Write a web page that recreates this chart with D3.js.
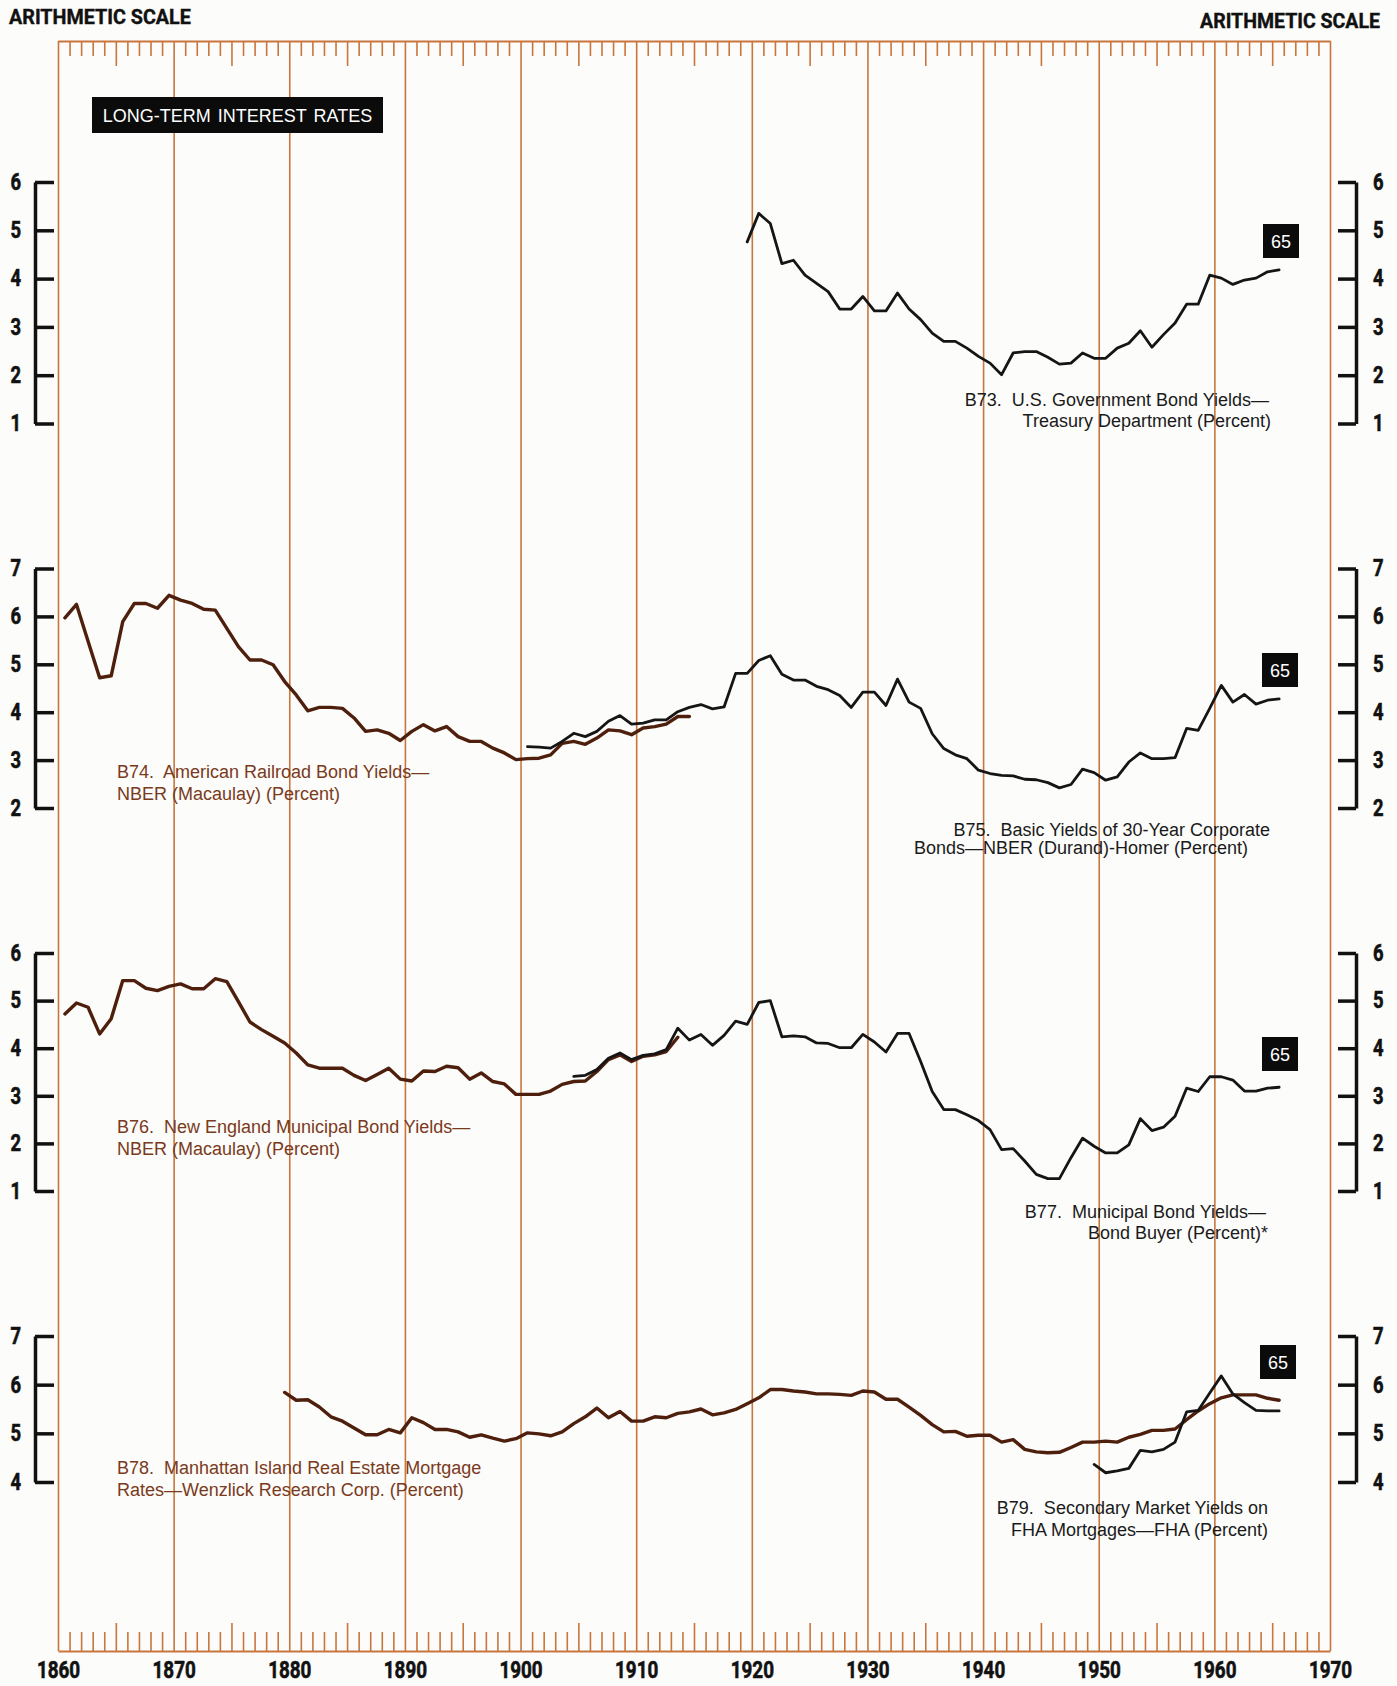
<!DOCTYPE html>
<html>
<head>
<meta charset="utf-8">
<script src="https://cdn.jsdelivr.net/npm/d3@7"></script>
<style>
  html, body { margin: 0; padding: 0; background: #fcfcfa; }
  svg { display: block; }
</style>
</head>
<body>
<svg id="chart" width="1397" height="1686"></svg>
<script>
// ---------------- DATA ----------------
const decadeYears = [1860, 1870, 1880, 1890, 1900, 1910, 1920, 1930, 1940, 1950, 1960, 1970];
const decadeLabels = ["1860", "1870", "1880", "1890", "1900", "1910", "1920", "1930", "1940", "1950", "1960", "1970"];

const panel1Ticks = [1, 2, 3, 4, 5, 6];
const panel2Ticks = [2, 3, 4, 5, 6, 7];
const panel3Ticks = [1, 2, 3, 4, 5, 6];
const panel4Ticks = [4, 5, 6, 7];

// B73 U.S. Government Bond Yields (1919-1965)
const b73Start = 1919;
const b73Values = [4.76, 5.35, 5.14, 4.31, 4.38, 4.07, 3.90, 3.73, 3.37, 3.37, 3.63, 3.33, 3.33, 3.70, 3.37, 3.15, 2.87, 2.70, 2.70, 2.56, 2.39, 2.25, 2.01, 2.46, 2.49, 2.49, 2.37, 2.23, 2.25, 2.46, 2.35, 2.35, 2.56, 2.66, 2.92, 2.58, 2.84, 3.08, 3.47, 3.47, 4.07, 4.01, 3.88, 3.97, 4.01, 4.14, 4.18];

// B74 American Railroad Bond Yields (1860-1914)
const b74Start = 1860;
const b74Values = [5.97, 6.25, 5.48, 4.72, 4.76, 5.89, 6.27, 6.27, 6.17, 6.44, 6.34, 6.27, 6.15, 6.13, 5.75, 5.37, 5.09, 5.09, 4.99, 4.64, 4.36, 4.03, 4.10, 4.10, 4.08, 3.88, 3.60, 3.63, 3.56, 3.41, 3.60, 3.74, 3.61, 3.70, 3.49, 3.39, 3.39, 3.25, 3.15, 3.01, 3.03, 3.04, 3.11, 3.35, 3.39, 3.33, 3.46, 3.63, 3.61, 3.53, 3.67, 3.70, 3.75, 3.91, 3.91];

// B75 Basic Yields of 30-Year Corporate Bonds (1900-1965)
const b75Start = 1900;
const b75Values = [3.28, 3.27, 3.25, 3.39, 3.56, 3.49, 3.60, 3.81, 3.93, 3.75, 3.77, 3.84, 3.84, 4.01, 4.10, 4.16, 4.07, 4.11, 4.81, 4.81, 5.08, 5.18, 4.79, 4.67, 4.67, 4.54, 4.47, 4.35, 4.10, 4.42, 4.42, 4.14, 4.69, 4.21, 4.08, 3.55, 3.24, 3.11, 3.03, 2.79, 2.72, 2.68, 2.67, 2.60, 2.59, 2.53, 2.42, 2.49, 2.81, 2.74, 2.58, 2.65, 2.96, 3.15, 3.03, 3.03, 3.05, 3.66, 3.62, 4.08, 4.56, 4.21, 4.37, 4.17, 4.25, 4.28];

// B76 New England Municipal Bond Yields (1860-1913)
const b76Start = 1860;
const b76Values = [4.72, 4.95, 4.86, 4.30, 4.62, 5.42, 5.42, 5.26, 5.21, 5.30, 5.35, 5.25, 5.25, 5.46, 5.40, 4.98, 4.55, 4.39, 4.25, 4.11, 3.90, 3.65, 3.58, 3.58, 3.58, 3.43, 3.32, 3.45, 3.58, 3.35, 3.31, 3.52, 3.51, 3.62, 3.59, 3.35, 3.48, 3.30, 3.25, 3.03, 3.03, 3.03, 3.10, 3.24, 3.30, 3.31, 3.51, 3.76, 3.86, 3.72, 3.83, 3.86, 3.93, 4.23];

// B77 Municipal Bond Yields - Bond Buyer (1904-1965)
const b77Start = 1904;
const b77Values = [3.41, 3.43, 3.55, 3.79, 3.90, 3.76, 3.85, 3.88, 3.97, 4.42, 4.17, 4.29, 4.06, 4.27, 4.57, 4.50, 4.96, 5.00, 4.24, 4.26, 4.24, 4.11, 4.10, 4.01, 4.01, 4.29, 4.13, 3.92, 4.31, 4.31, 3.72, 3.09, 2.71, 2.71, 2.60, 2.48, 2.29, 1.87, 1.89, 1.63, 1.35, 1.26, 1.26, 1.70, 2.11, 1.94, 1.80, 1.80, 1.97, 2.52, 2.27, 2.34, 2.57, 3.16, 3.09, 3.40, 3.40, 3.33, 3.10, 3.10, 3.16, 3.18];

// B78 Manhattan Island Real Estate Mortgage Rates (1879-1965)
const b78Start = 1879;
const b78Values = [5.84, 5.68, 5.69, 5.54, 5.34, 5.25, 5.11, 4.97, 4.97, 5.08, 5.01, 5.32, 5.22, 5.08, 5.08, 5.03, 4.92, 4.97, 4.90, 4.84, 4.89, 5.01, 4.99, 4.95, 5.03, 5.20, 5.34, 5.52, 5.32, 5.45, 5.25, 5.25, 5.34, 5.32, 5.41, 5.44, 5.50, 5.38, 5.42, 5.49, 5.61, 5.73, 5.90, 5.90, 5.87, 5.85, 5.81, 5.81, 5.80, 5.78, 5.87, 5.85, 5.70, 5.70, 5.54, 5.37, 5.18, 5.03, 5.04, 4.94, 4.96, 4.96, 4.82, 4.87, 4.67, 4.62, 4.60, 4.61, 4.71, 4.82, 4.82, 4.84, 4.82, 4.92, 4.98, 5.06, 5.06, 5.09, 5.28, 5.46, 5.61, 5.73, 5.79, 5.79, 5.79, 5.72, 5.68];

// B79 Secondary Market Yields on FHA Mortgages (1949-1965)
const b79Start = 1949;
const b79Values = [4.36, 4.19, 4.23, 4.28, 4.65, 4.62, 4.67, 4.82, 5.44, 5.47, 5.83, 6.18, 5.81, 5.63, 5.47, 5.46, 5.46];

const b73Label = ["B73.\u00a0 U.S. Government Bond Yields\u2014", "Treasury Department (Percent)"];
const b74Label = ["B74.\u00a0 American Railroad Bond Yields\u2014", "NBER (Macaulay) (Percent)"];
const b75Label = ["B75.\u00a0 Basic Yields of 30-Year Corporate", "Bonds\u2014NBER (Durand)-Homer (Percent)"];
const b76Label = ["B76.\u00a0 New England Municipal Bond Yields\u2014", "NBER (Macaulay) (Percent)"];
const b77Label = ["B77.\u00a0 Municipal Bond Yields\u2014", "Bond Buyer (Percent)*"];
const b78Label = ["B78.\u00a0 Manhattan Island Real Estate Mortgage", "Rates\u2014Wenzlick Research Corp. (Percent)"];
const b79Label = ["B79.\u00a0 Secondary Market Yields on", "FHA Mortgages\u2014FHA (Percent)"];
const scaleTitle = "ARITHMETIC SCALE";
const chartTitle = "LONG-TERM INTEREST RATES";
const lastYearTag = "65";

// ---------------- STYLE / LAYOUT ----------------
const ORANGE = "#c8763e";
const BROWN = "#4e1f0c";
const BROWN_TXT = "#7a3a1c";
const INK = "#151515";
const BOLD = "Roboto, 'DejaVu Sans', sans-serif";
const SANS = "'Liberation Sans', Arial, sans-serif";
const SQUEEZE = 0.8;   // horizontal compression to imitate condensed bold type
const TOP = 41, BOTTOM = 1651;
const PLOT_OFFSET = 0.6; // annual values plotted within the year interval

const svg = d3.select("#chart");
const x = d3.scaleLinear().domain([1860, 1970]).range([58, 1330]);

// ---------- grid: decade lines ----------
const grid = svg.append("g").attr("transform", `translate(0,${TOP})`)
  .call(d3.axisBottom(x).tickValues(decadeYears).tickSize(BOTTOM - TOP).tickSizeOuter(0).tickFormat(""));
grid.select(".domain").attr("stroke", ORANGE).attr("stroke-width", 2.2);
grid.selectAll(".tick line").attr("stroke", ORANGE).attr("stroke-width", 1.6);

const allYears = d3.range(1861, 1970).filter(yr => yr % 10 !== 0);
const minorYears = allYears.filter(yr => yr % 5 !== 0);
const fiveYears = allYears.filter(yr => yr % 5 === 0);

function styleTicks(g) {
  g.select(".domain").remove();
  g.selectAll(".tick line").attr("stroke", ORANGE).attr("stroke-width", 1.6);
}
// top ticks (hang down)
svg.append("g").attr("transform", `translate(0,${TOP})`)
  .call(d3.axisBottom(x).tickValues(minorYears).tickSize(15).tickFormat("")).call(styleTicks);
svg.append("g").attr("transform", `translate(0,${TOP})`)
  .call(d3.axisBottom(x).tickValues(fiveYears).tickSize(25).tickFormat("")).call(styleTicks);
// bottom ticks (point up)
svg.append("g").attr("transform", `translate(0,${BOTTOM})`)
  .call(d3.axisTop(x).tickValues(minorYears).tickSize(19).tickFormat("")).call(styleTicks);
svg.append("g").attr("transform", `translate(0,${BOTTOM})`)
  .call(d3.axisTop(x).tickValues(fiveYears).tickSize(28).tickFormat("")).call(styleTicks);
// bottom line + year labels
const bottomAxis = svg.append("g").attr("transform", `translate(0,${BOTTOM})`)
  .call(d3.axisBottom(x).tickValues(decadeYears).tickSize(0).tickSizeOuter(0).tickPadding(11)
    .tickFormat((d, i) => decadeLabels[i]));
bottomAxis.select(".domain").attr("stroke", ORANGE).attr("stroke-width", 2.2);
bottomAxis.selectAll("text")
  .attr("fill", "#111").attr("stroke", "#111").attr("stroke-width", 0.6)
  .attr("transform", "scale(0.82,1)")
  .style("font-family", BOLD).style("font-weight", "700").style("font-size", "23px");

// ---------- titles ----------
function squeezedText(tx, ty, str, anchor, size, targetWidth) {
  const t = svg.append("text").attr("x", 0).attr("y", 0).attr("text-anchor", anchor).text(str)
    .attr("fill", "#111").attr("stroke", "#111").attr("stroke-width", 0.4)
    .style("font-family", BOLD).style("font-weight", "700").style("font-size", size + "px");
  const w = t.node().getComputedTextLength();
  const s = w > 0 ? targetWidth / w : 1;
  t.attr("transform", `translate(${tx},${ty}) scale(${s},1)`);
  return t;
}
squeezedText(9, 24, scaleTitle, "start", 21, 182);
squeezedText(1380, 28, scaleTitle, "end", 21, 180);

svg.append("rect").attr("x", 92).attr("y", 97).attr("width", 291).attr("height", 36).attr("fill", "#0b0b0b");
svg.append("text").attr("x", 237.5).attr("y", 121.5).attr("text-anchor", "middle")
  .text(chartTitle).attr("fill", "#fff")
  .style("font-family", SANS).style("font-size", "18px").style("word-spacing", "2px");

// ---------- panels ----------
const panels = [
  { ticks: panel1Ticks, domain: [1, 6], range: [423.5, 182] },
  { ticks: panel2Ticks, domain: [2, 7], range: [808, 568.5] },
  { ticks: panel3Ticks, domain: [1, 6], range: [1191, 953] },
  { ticks: panel4Ticks, domain: [4, 7], range: [1482, 1336] }
];
panels.forEach(p => { p.y = d3.scaleLinear().domain(p.domain).range(p.range); });

function styleBracket(g, side) {
  g.select(".domain").attr("stroke", "#111").attr("stroke-width", 3.5);
  g.selectAll(".tick line").attr("stroke", "#111").attr("stroke-width", 3.5);
  g.selectAll(".tick text").attr("fill", "#111").attr("stroke", "#111").attr("stroke-width", 0.6)
    .attr("x", side === "left" ? -14 / SQUEEZE : 17 / SQUEEZE)
    .attr("transform", `scale(${SQUEEZE},1)`)
    .style("font-family", BOLD).style("font-weight", "700").style("font-size", "23px");
}
panels.forEach(p => {
  svg.append("g").attr("transform", "translate(35,0)")
    .call(d3.axisLeft(p.y).tickValues(p.ticks).tickSizeInner(-19).tickSizeOuter(0).tickPadding(14).tickFormat(d3.format("d")))
    .call(styleBracket, "left");
  svg.append("g").attr("transform", "translate(1356,0)")
    .call(d3.axisRight(p.y).tickValues(p.ticks).tickSizeInner(-18).tickSizeOuter(0).tickPadding(17).tickFormat(d3.format("d")))
    .call(styleBracket, "right");
});

// ---------- labels ----------
function label(lines, anchor, xs, ys, color) {
  lines.forEach((t, i) => {
    svg.append("text").attr("x", xs[i]).attr("y", ys[i]).attr("text-anchor", anchor)
      .text(t).attr("fill", color).style("font-family", SANS).style("font-size", "18px");
  });
}
label(b73Label, "end", [1269, 1271], [406, 427], "#1a1a1a");
label(b74Label, "start", [117, 117], [778, 800], BROWN_TXT);
label(b75Label, "end", [1270, 1248], [836, 854], "#1a1a1a");
label(b76Label, "start", [117, 117], [1133, 1155], BROWN_TXT);
label(b77Label, "end", [1266, 1268], [1218, 1239], "#1a1a1a");
label(b78Label, "start", [117, 117], [1474, 1496], BROWN_TXT);
label(b79Label, "end", [1268, 1268], [1514, 1536], "#1a1a1a");

// ---------- "65" tags ----------
const tagPos = [[1263, 224], [1262, 653], [1262, 1037], [1260, 1345]];
tagPos.forEach(([tx, ty]) => {
  svg.append("rect").attr("x", tx).attr("y", ty).attr("width", 36).attr("height", 34).attr("fill", "#0b0b0b");
  svg.append("text").attr("x", tx + 18).attr("y", ty + 23.5).attr("text-anchor", "middle")
    .text(lastYearTag).attr("fill", "#fff").style("font-family", SANS).style("font-size", "18px");
});

// ---------- series ----------
const series = [
  { start: b76Start, values: b76Values, panel: 2, color: BROWN },
  { start: b77Start, values: b77Values, panel: 2, color: INK },
  { start: b74Start, values: b74Values, panel: 1, color: BROWN },
  { start: b75Start, values: b75Values, panel: 1, color: INK },
  { start: b73Start, values: b73Values, panel: 0, color: INK },
  { start: b78Start, values: b78Values, panel: 3, color: BROWN },
  { start: b79Start, values: b79Values, panel: 3, color: INK }
];
series.forEach(s => {
  const yS = panels[s.panel].y;
  const line = d3.line()
    .x((d, i) => x(s.start + i + PLOT_OFFSET))
    .y(d => yS(d));
  svg.append("path").datum(s.values).attr("d", line)
    .attr("fill", "none").attr("stroke", s.color)
    .attr("stroke-width", s.color === BROWN ? 3.4 : 2.8)
    .attr("stroke-linejoin", "round").attr("stroke-linecap", "round");
});
</script>
</body>
</html>
